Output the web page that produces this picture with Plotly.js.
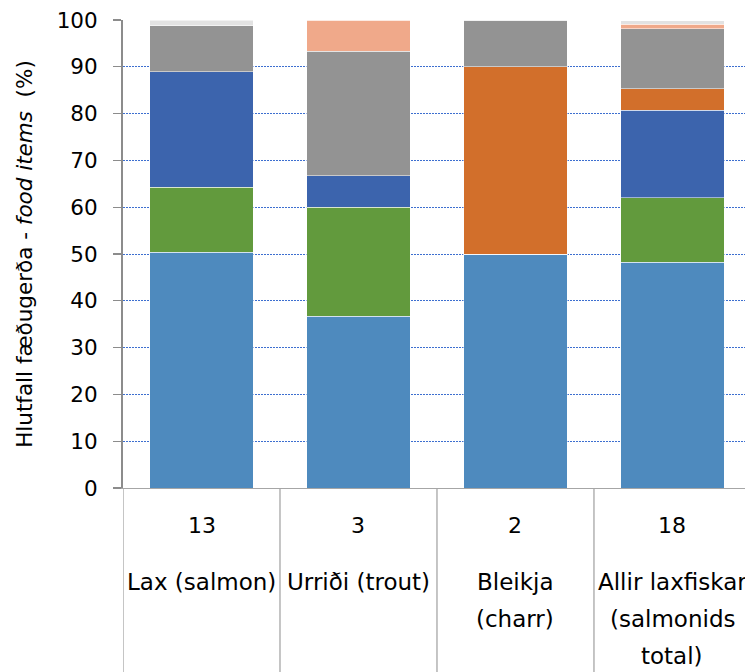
<!DOCTYPE html>
<html>
<head>
<meta charset="utf-8">
<script src="https://cdn.plot.ly/plotly-3.0.1.min.js"></script>
<style>html,body{margin:0;padding:0;background:#fff;}#chart{width:745px;height:672px;}</style>
</head>
<body>
<div id="chart"></div>
<script>
// Categories (multi-level: sample count over species name)
const categories = ['Lax (salmon)', 'Urriði (trout)', 'Bleikja (charr)', 'Allir laxfiskar (salmonids total)'];
const counts = ['13', '3', '2', '18'];
const nameLines = [
  ['Lax (salmon)'],
  ['Urriði (trout)'],
  ['Bleikja', '(charr)'],
  ['Allir laxfiskar', '(salmonids', 'total)']
];

// Stacked series values (%), bottom to top
const seriesA = [50.4, 36.7, 50.0, 48.2];   // light blue
const seriesB = [13.9, 23.3, 0.0, 13.8];    // green
const seriesC = [24.6, 6.7, 0.0, 18.7];     // dark blue
const seriesD = [0.0, 0.0, 40.0, 4.6];      // orange
const seriesE = [10.0, 26.6, 10.0, 12.8];   // gray
const seriesF = [0.0, 6.7, 0.0, 1.0];       // salmon
const seriesG = [1.1, 0.0, 0.0, 0.7];       // light gray

const seriesNames = ['A', 'B', 'C', 'D', 'E', 'F', 'G'];
const seriesValues = [seriesA, seriesB, seriesC, seriesD, seriesE, seriesF, seriesG];
const seriesColors = ['#4E8ABE', '#629A3D', '#3C64AD', '#D26F2B', '#939393', '#F0A98A', '#E2E2E2'];

const xIdx = categories.map((c, i) => i);

const traces = seriesValues.map((vals, k) => ({
  type: 'bar',
  name: seriesNames[k],
  x: xIdx,
  y: vals,
  marker: {color: seriesColors[k], line: {color: 'rgba(255,255,255,0.5)', width: 1}},
  hoverinfo: 'y'
}));

const FONT = 'DejaVu Sans, sans-serif';
const lineGap = 37;

const annotations = [];
counts.forEach((c, i) => {
  annotations.push({x: i, xref: 'x', y: 0, yref: 'paper', yanchor: 'middle', yshift: -37,
    text: c, showarrow: false, font: {family: FONT, size: 22, color: '#000'}});
});
nameLines.forEach((lines, i) => {
  lines.forEach((t, j) => {
    annotations.push({x: i, xref: 'x', y: 0, yref: 'paper', yanchor: 'middle', yshift: -94 - j * lineGap,
      text: t, showarrow: false, font: {family: FONT, size: 23, color: '#000'}});
  });
});

const shapes = [];
for (let i = 0; i <= categories.length; i++) {
  shapes.push({type: 'line', xref: 'x', yref: 'paper', x0: i - 0.5, x1: i - 0.5, y0: 0, y1: -0.45,
    line: {color: '#a6a6a6', width: 1.3}, layer: 'above'});
}

const layout = {
  width: 745, height: 672,
  margin: {l: 123, r: 0, t: 20, b: 184},
  barmode: 'stack',
  bargap: 0.34,
  showlegend: false,
  paper_bgcolor: '#fff', plot_bgcolor: '#fff',
  font: {family: FONT, size: 21, color: '#000'},
  xaxis: {
    range: [-0.5, 3.462], showticklabels: false, showgrid: false, zeroline: false,
    showline: true, linecolor: '#a6a6a6', linewidth: 1.3, ticks: '', fixedrange: true
  },
  yaxis: {
    range: [0, 100], dtick: 10, tick0: 0,
    showgrid: true, gridcolor: '#3D6FD0', gridwidth: 1, griddash: '2px,1px',
    zeroline: false, showline: true, linecolor: '#8c8c8c', linewidth: 2,
    ticks: 'outside', ticklen: 8, tickcolor: '#8c8c8c', tickwidth: 1.3,
    ticklabelstandoff: 11,
    tickfont: {family: FONT, size: 21.5, color: '#000'},
    title: {text: 'Hlutfall fæðugerða - <i>food items</i>  (%)', font: {family: FONT, size: 21.5, color: '#000'}, standoff: 18},
    fixedrange: true
  },
  annotations: annotations,
  shapes: shapes
};

Plotly.newPlot('chart', traces, layout, {displayModeBar: false, staticPlot: true});
</script>
</body>
</html>
